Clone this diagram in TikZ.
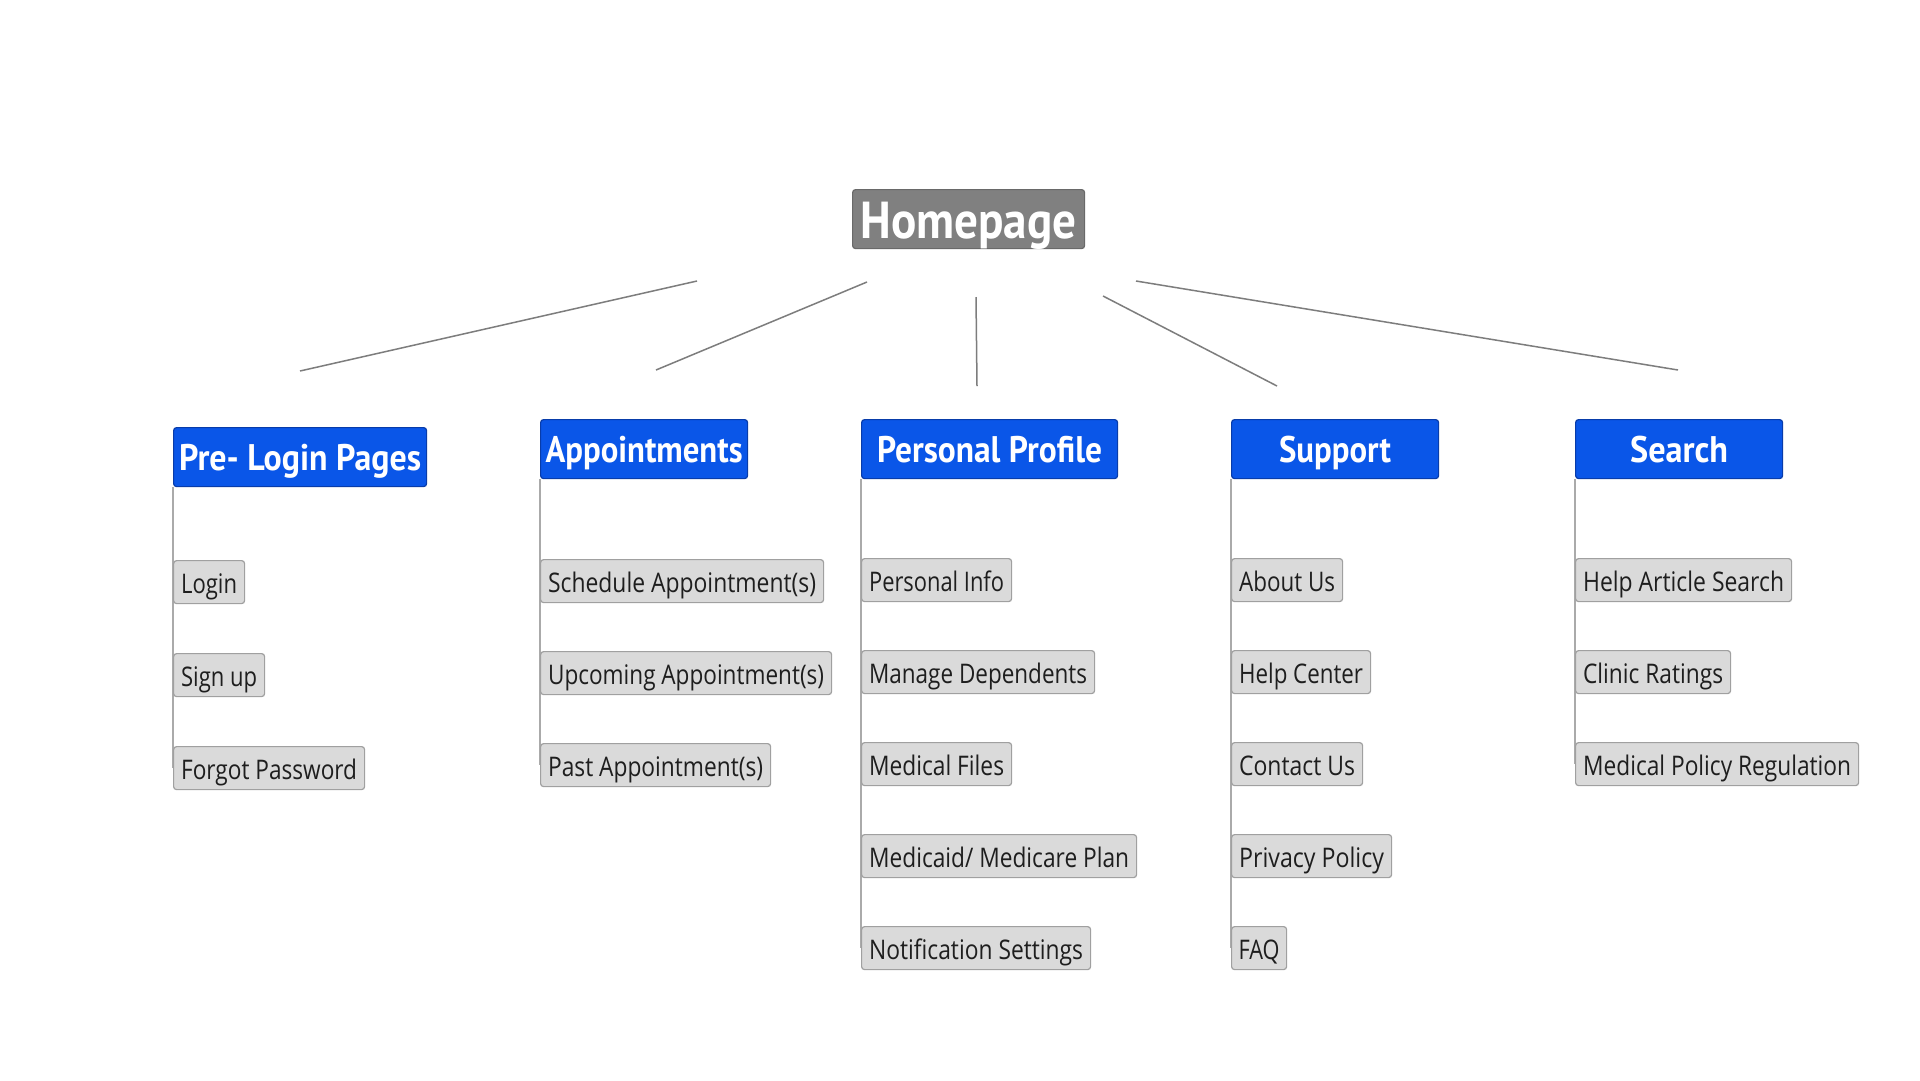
\documentclass[tikz,border=0pt]{standalone}
\usepackage{fontspec}
\usepackage{graphicx}
\setmainfont{Open Sans}
\newfontfamily\hdrfont{PT Sans}
\usetikzlibrary{backgrounds}
\definecolor{hdrblue}{RGB}{10,86,232}
\definecolor{hdredge}{RGB}{8,60,170}
\definecolor{boxfill}{RGB}{218,218,218}
\definecolor{boxedge}{RGB}{160,160,160}
\definecolor{childtext}{RGB}{30,30,30}
\definecolor{homefill}{RGB}{128,128,128}
\definecolor{homeedge}{RGB}{105,105,105}
\definecolor{linegray}{RGB}{125,125,125}
\definecolor{vlinegray}{RGB}{170,170,170}
\tikzset{
  childbox/.style={draw=boxedge, fill=boxfill, rounded corners=3pt, line width=1.2pt,
    minimum height=43pt, inner sep=0pt, anchor=north west, text=childtext,
    font=\fontsize{27}{30}\selectfont, text height=26pt, text depth=3pt},
  headbox/.style={draw=hdredge, fill=hdrblue, rounded corners=3pt, line width=1.2pt,
    minimum height=59pt, inner sep=0pt, anchor=north west, text=white,
    font=\hdrfont\bfseries\fontsize{37}{40}\selectfont, text height=30pt, text depth=4pt},
  homebox/.style={draw=homeedge, fill=homefill, rounded corners=3pt, line width=1.2pt,
    minimum height=59pt, inner sep=0pt, anchor=north west, text=white,
    font=\hdrfont\bfseries\fontsize{52}{56}\selectfont, text height=42pt, text depth=3pt},
  spoke/.style={draw=linegray, line width=1.5pt},
  stem/.style={draw=vlinegray, line width=1.3pt}
}
% #1 name, #2 x, #3 y, #4 box width, #5 text width, #6 text
\newcommand\cbox[6]{\node[childbox, minimum width=#4pt] (#1) at (#2,#3) {\resizebox{#5pt}{\height}{#6}};}
\newcommand\hdbox[6]{\node[headbox, minimum width=#4pt] (#1) at (#2,#3) {\resizebox{#5pt}{\height}{#6}};}
\begin{document}
\begin{tikzpicture}[x=1pt, y=-1pt]
\useasboundingbox (0,0) rectangle (1920,1080);

% Homepage
\node[homebox, minimum width=232pt] (home) at (852,189) {\resizebox{216pt}{\height}{Homepage}};

% Headers
\hdbox{pre}{173}{427}{253}{242}{Pre- Login Pages}
\hdbox{app}{540}{419}{207}{197}{Appointments}
\hdbox{prof}{861}{419}{256}{225}{Personal Profile}
\hdbox{sup}{1231}{419}{207}{112}{Support}
\hdbox{srch}{1575}{419}{207}{98}{Search}

% Pre-login children
\cbox{login}{173}{560}{71}{56}{Login}
\cbox{signup}{173}{653}{91}{76}{Sign up}
\cbox{forgot}{173}{746}{191}{176}{Forgot Password}

% Appointments children
\cbox{sched}{540}{559}{283}{268}{Schedule Appointment(s)}
\cbox{upcom}{540}{651}{291}{276}{Upcoming Appointment(s)}
\cbox{past}{540}{743}{230}{215}{Past Appointment(s)}

% Personal profile children
\cbox{pinfo}{861}{558}{150}{135}{Personal Info}
\cbox{mdep}{861}{650}{233}{218}{Manage Dependents}
\cbox{mfiles}{861}{742}{150}{135}{Medical Files}
\cbox{mplan}{861}{834}{275}{260}{Medicaid/ Medicare Plan}
\cbox{notif}{861}{926}{229}{214}{Notification Settings}

% Support children
\cbox{about}{1231}{558}{111}{96}{About Us}
\cbox{help}{1231}{650}{139}{124}{Help Center}
\cbox{contact}{1231}{742}{131}{116}{Contact Us}
\cbox{privacy}{1231}{834}{160}{145}{Privacy Policy}
\cbox{faq}{1231}{926}{55}{41}{FAQ}

% Search children
\cbox{hsearch}{1575}{558}{216}{201}{Help Article Search}
\cbox{clinic}{1575}{650}{155}{140}{Clinic Ratings}
\cbox{policy}{1575}{742}{283}{268}{Medical Policy Regulation}

% Spoke end points (free lines)
\coordinate (s1a) at (697,281);
\coordinate (s1b) at (300,371);
\coordinate (s2a) at (867,282);
\coordinate (s2b) at (656,370);
\coordinate (s3a) at (976,297);
\coordinate (s3b) at (977,386);
\coordinate (s4a) at (1103,296);
\coordinate (s4b) at (1277,386);
\coordinate (s5a) at (1136,281);
\coordinate (s5b) at (1678,370);

\draw[spoke] (s1a) -- (s1b);
\draw[spoke] (s2a) -- (s2b);
\draw[spoke] (s3a) -- (s3b);
\draw[spoke] (s4a) -- (s4b);
\draw[spoke] (s5a) -- (s5b);

\begin{scope}[on background layer]
\fill[white] (0,0) rectangle (1920,1080);
\draw[stem] (pre.south west) -- (forgot.west);
\draw[stem] (app.south west) -- (past.west);
\draw[stem] (prof.south west) -- (notif.west);
\draw[stem] (sup.south west) -- (faq.west);
\draw[stem] (srch.south west) -- (policy.west);
\end{scope}
\end{tikzpicture}
\end{document}
